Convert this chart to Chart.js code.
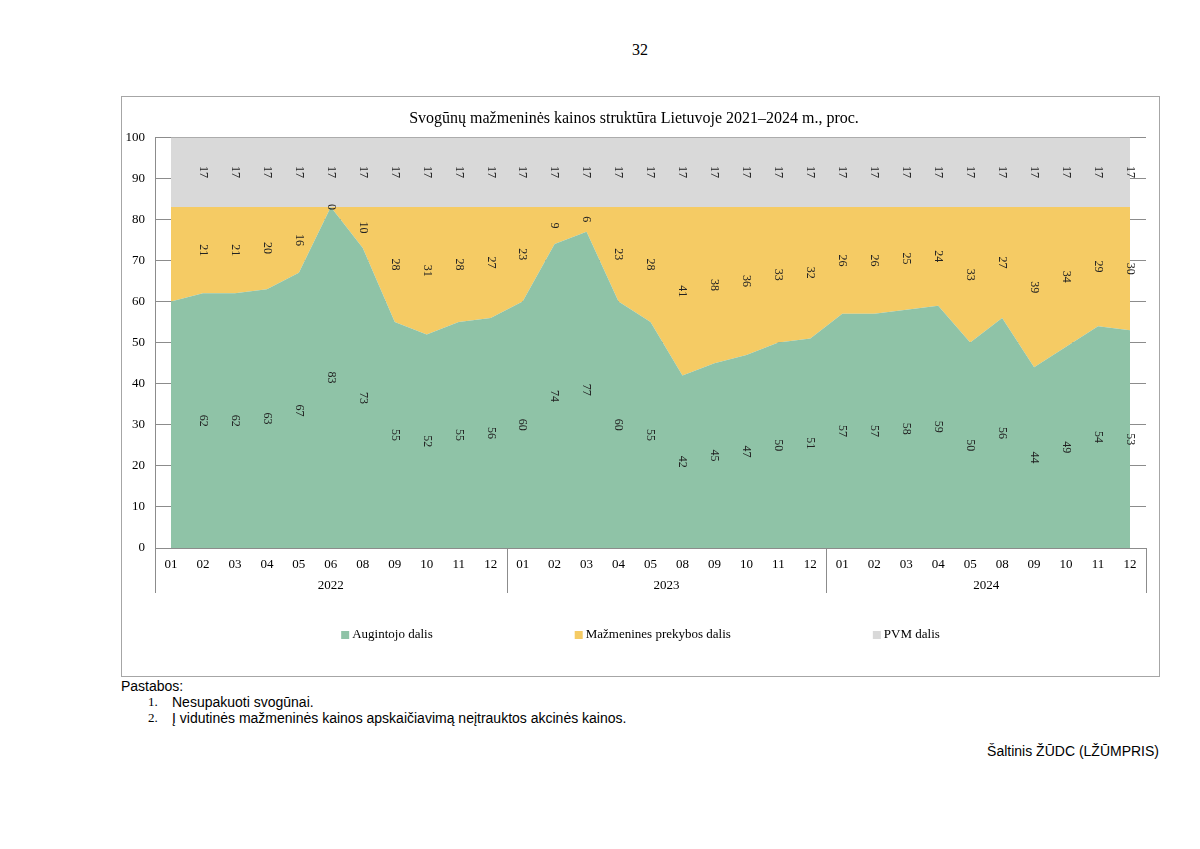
<!DOCTYPE html>
<html lang="lt">
<head>
    <meta charset="UTF-8">
    <script src="https://cdn.jsdelivr.net/npm/chart.js"></script>
    <title>Svogūnų mažmeninės kainos struktūra</title>
    <style>
        body {
            margin: 0;
            background: #fff;
            width: 1200px;
            height: 849px;
            position: relative;
            font-family: "Liberation Serif", "Times New Roman", serif;
            color: #000;
        }
        .page-no {
            position: absolute;
            left: 600px;
            width: 80px;
            top: 41px;
            text-align: center;
            font-size: 16px;
        }
        .chart-box {
            position: absolute;
            left: 121px;
            top: 96px;
            width: 1037px;
            height: 579px;
            border: 1px solid #a6a6a6;
        }
        .notes {
            position: absolute;
            left: 121px;
            top: 678px;
            font-family: "Liberation Sans", Arial, sans-serif;
            font-size: 14px;
            line-height: 16px;
        }
        .notes .item {
            position: relative;
            padding-left: 51px;
        }
        .notes .num {
            position: absolute;
            left: 27px;
            font-family: "Liberation Serif", "Times New Roman", serif;
            font-size: 13px;
        }
        .source {
            position: absolute;
            right: 41px;
            top: 743px;
            font-family: "Liberation Sans", Arial, sans-serif;
            font-size: 14px;
        }
    </style>
</head>
<body>
<div class="page-no">32</div>

<div class="chart-box">
    <canvas id="structureChart" width="1037" height="579"></canvas>
</div>

<div class="notes">
    <div>Pastabos:</div>
    <div class="item"><span class="num">1.</span>Nesupakuoti svogūnai.</div>
    <div class="item"><span class="num">2.</span>Į vidutinės mažmeninės kainos apskaičiavimą neįtrauktos akcinės kainos.</div>
</div>
<div class="source">Šaltinis ŽŪDC (LŽŪMPRIS)</div>

<script>
    // Months shown for each year (07 is missing in the source)
    const years = ['2022', '2023', '2024'];
    const months2022 = ['01', '02', '03', '04', '05', '06', '08', '09', '10', '11', '12'];
    const months2023 = ['01', '02', '03', '04', '05', '08', '09', '10', '11', '12'];
    const months2024 = ['01', '02', '03', '04', '05', '08', '09', '10', '11', '12'];
    const monthsByYear = [months2022, months2023, months2024];

    // Shares of the retail price, %
    const augintojo = [60, 62, 62, 63, 67, 83, 73, 55, 52, 55, 56,
                       60, 74, 77, 60, 55, 42, 45, 47, 50, 51,
                       57, 57, 58, 59, 50, 56, 44, 49, 54, 53];
    const mazmenines = [23, 21, 21, 20, 16, 0, 10, 28, 31, 28, 27,
                        23, 9, 6, 23, 28, 41, 38, 36, 33, 32,
                        26, 26, 25, 24, 33, 27, 39, 34, 29, 30];
    const pvm = [17, 17, 17, 17, 17, 17, 17, 17, 17, 17, 17,
                 17, 17, 17, 17, 17, 17, 17, 17, 17, 17,
                 17, 17, 17, 17, 17, 17, 17, 17, 17, 17];

    const yTicks = [0, 10, 20, 30, 40, 50, 60, 70, 80, 90, 100];

    const categories = monthsByYear.flat();

    const serif = '"Liberation Serif", "Times New Roman", serif';
    const gridColor = '#8c8c8c';

    // value labels in the middle of each band, rotated (first month has none)
    const bandLabels = {
        id: 'bandLabels',
        afterDatasetsDraw(chart) {
            const ctx = chart.ctx;
            const xs = chart.scales.x;
            const ys = chart.scales.y;
            ctx.save();
            ctx.font = '12px ' + serif;
            ctx.fillStyle = '#222';
            ctx.textAlign = 'center';
            ctx.textBaseline = 'middle';
            for (let j = 1; j < categories.length; j++) {
                let base = 0;
                chart.data.datasets.forEach(ds => {
                    const v = ds.data[j];
                    const y = ys.getPixelForValue(base + v / 2);
                    const x = xs.getPixelForValue(j);
                    ctx.save();
                    ctx.translate(x, y);
                    ctx.rotate(Math.PI / 2);
                    ctx.fillText(String(v), 0, 0);
                    ctx.restore();
                    base += v;
                });
            }
            ctx.restore();
        }
    };

    // year row under the month labels, with separators
    const yearAxis = {
        id: 'yearAxis',
        afterDraw(chart) {
            const ctx = chart.ctx;
            const xs = chart.scales.x;
            const area = chart.chartArea;
            const bounds = [area.left];
            let idx = 0;
            monthsByYear.forEach((m, i) => {
                idx += m.length;
                if (i < monthsByYear.length - 1) {
                    bounds.push((xs.getPixelForTick(idx - 1) + xs.getPixelForTick(idx)) / 2);
                }
            });
            bounds.push(area.right);

            ctx.save();
            ctx.strokeStyle = gridColor;
            ctx.lineWidth = 1;
            bounds.forEach(bx => {
                const px = Math.round(bx) + 0.5;
                ctx.beginPath();
                ctx.moveTo(px, area.bottom);
                ctx.lineTo(px, area.bottom + 45);
                ctx.stroke();
            });
            ctx.font = '13px ' + serif;
            ctx.fillStyle = '#000';
            ctx.textAlign = 'center';
            ctx.textBaseline = 'middle';
            years.forEach((yr, i) => {
                ctx.fillText(yr, (bounds[i] + bounds[i + 1]) / 2, area.bottom + 38);
            });
            ctx.restore();
        }
    };

    // wide-spaced legend at the bottom
    const bottomLegend = {
        id: 'bottomLegend',
        afterDraw(chart) {
            const ctx = chart.ctx;
            const gap = 142;
            const box = 8;
            ctx.save();
            ctx.font = '13px ' + serif;
            const items = chart.data.datasets.map(ds => ({
                text: ds.label,
                color: ds.backgroundColor,
                w: box + 3 + ctx.measureText(ds.label).width
            }));
            const total = items.reduce((s, it) => s + it.w, 0) + gap * (items.length - 1);
            let x = chart.width / 2 - total / 2;
            const y = 538;
            ctx.textBaseline = 'middle';
            ctx.textAlign = 'left';
            items.forEach(it => {
                ctx.fillStyle = it.color;
                ctx.fillRect(x, y - box / 2, box, box);
                ctx.fillStyle = '#000';
                ctx.fillText(it.text, x + box + 3, y);
                x += it.w + gap;
            });
            ctx.restore();
        }
    };

    const ctx = document.getElementById('structureChart').getContext('2d');
    const structureChart = new Chart(ctx, {
        type: 'line',
        data: {
            labels: categories,
            datasets: [{
                label: 'Augintojo dalis',
                data: augintojo,
                backgroundColor: '#8fc3a7',
                borderWidth: 0,
                pointRadius: 0,
                fill: 'origin'
            }, {
                label: 'Mažmenines prekybos dalis',
                data: mazmenines,
                backgroundColor: '#f5cb64',
                borderWidth: 0,
                pointRadius: 0,
                fill: '-1'
            }, {
                label: 'PVM dalis',
                data: pvm,
                backgroundColor: '#d9d9d9',
                borderWidth: 0,
                pointRadius: 0,
                fill: '-1'
            }]
        },
        options: {
            responsive: false,
            animation: false,
            devicePixelRatio: 1,
            layout: {
                padding: { left: 0, right: 13, top: 0, bottom: 0 }
            },
            plugins: {
                legend: { display: false },
                tooltip: { enabled: false },
                title: {
                    display: true,
                    text: 'Svogūnų mažmeninės kainos struktūra Lietuvoje 2021–2024 m., proc.',
                    color: '#000',
                    font: { family: serif, size: 16, weight: 'normal' },
                    padding: { top: 12, bottom: 9 }
                }
            },
            scales: {
                x: {
                    offset: true,
                    grid: { display: false },
                    border: { display: true, color: gridColor },
                    ticks: {
                        color: '#000',
                        font: { family: serif, size: 13 },
                        padding: 1,
                        maxRotation: 0,
                        autoSkip: false
                    },
                    afterFit(scale) { scale.height = 128; }
                },
                y: {
                    stacked: true,
                    min: 0,
                    max: 100,
                    afterBuildTicks(scale) {
                        scale.ticks = yTicks.map(v => ({ value: v }));
                    },
                    grid: { color: gridColor, drawTicks: false },
                    border: { display: true, color: gridColor },
                    ticks: {
                        color: '#000',
                        font: { family: serif, size: 13 },
                        padding: 10
                    },
                    afterFit(scale) { scale.width = 33; }
                }
            }
        },
        plugins: [bandLabels, yearAxis, bottomLegend]
    });
</script>
</body>
</html>
